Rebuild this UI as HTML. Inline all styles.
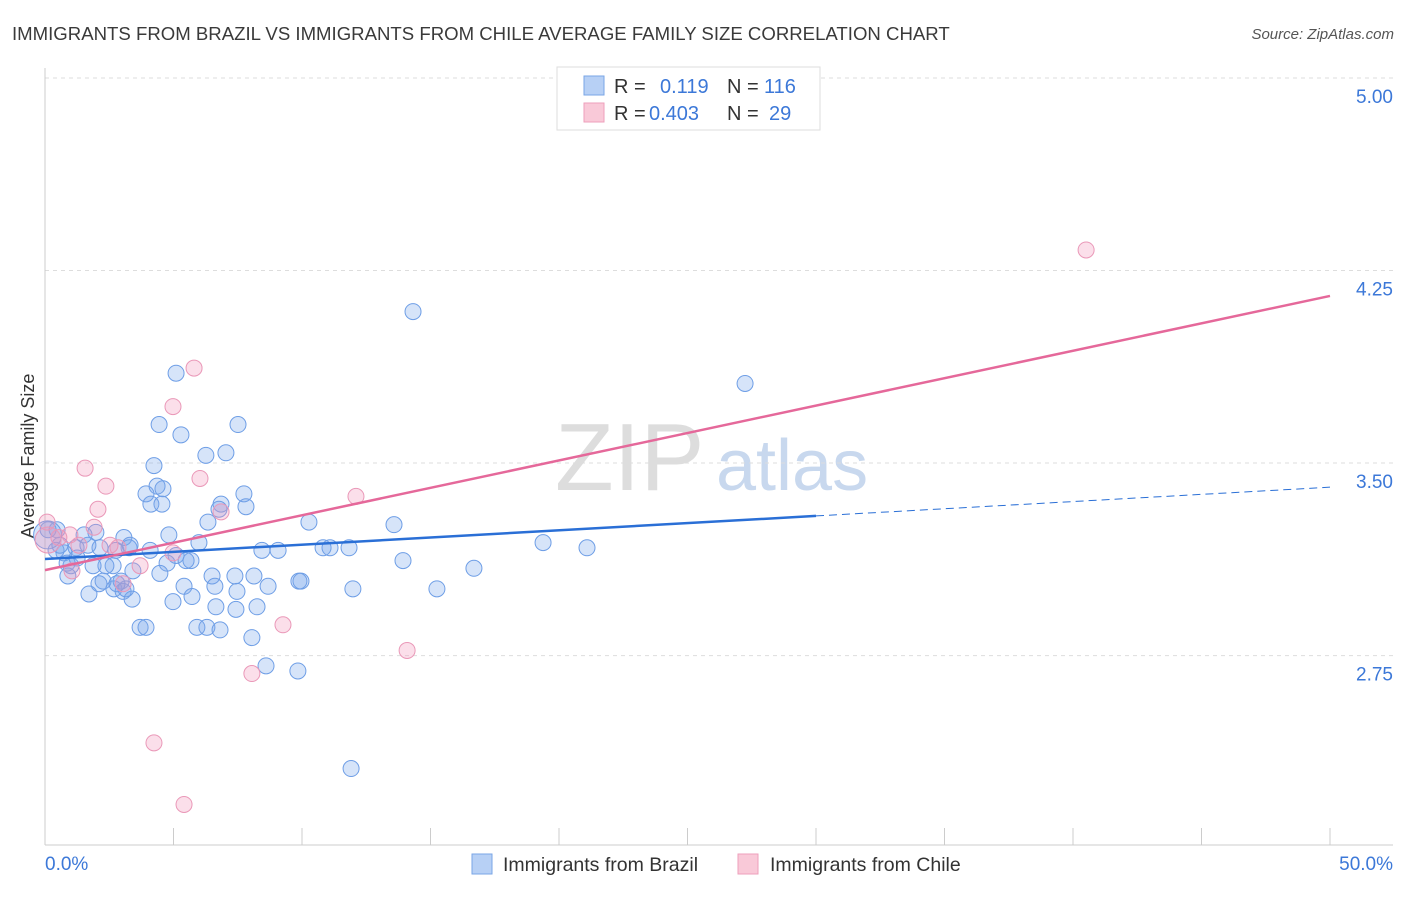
<!DOCTYPE html>
<html><head><meta charset="utf-8"><style>
body{margin:0;background:#fff;font-family:"Liberation Sans",sans-serif;}
svg text{font-family:"Liberation Sans",sans-serif;}
</style></head><body>
<svg id="c" width="1406" height="892">
<text x="12" y="40" font-size="18.6" fill="#3a3a3a">IMMIGRANTS FROM BRAZIL VS IMMIGRANTS FROM CHILE AVERAGE FAMILY SIZE CORRELATION CHART</text>
<text x="1394" y="39" font-size="15" fill="#555" text-anchor="end" font-style="italic">Source: ZipAtlas.com</text>
<text transform="translate(34,456) rotate(-90)" font-size="18" fill="#333" text-anchor="middle">Average Family Size</text>
<g><text x="555" y="490" font-size="96" fill="#ddd" font-family="Liberation Serif">ZIP</text><text x="716" y="490" font-size="72" fill="#c8d8ee">atlas</text></g>
<g id="grid"></g><g id="axes"></g><g id="pts"></g><g id="trend"></g>
<g>
<rect x="557" y="67" width="263" height="63" fill="#fff" stroke="#ddd"/>
<rect x="584" y="76" width="20" height="19" fill="#b7d0f5" stroke="#7aa6e6"/>
<rect x="584" y="103" width="20" height="19" fill="#f9c9d8" stroke="#ee9fbb"/>
<text x="614" y="93" font-size="20" fill="#333">R = <tspan fill="#3c78d8" x="660">0.119</tspan><tspan x="727" fill="#333">N =</tspan><tspan fill="#3c78d8" x="764">116</tspan></text>
<text x="614" y="120" font-size="20" fill="#333">R = <tspan fill="#3c78d8" x="649">0.403</tspan><tspan x="727" fill="#333">N =</tspan><tspan fill="#3c78d8" x="769">29</tspan></text>
</g>
<g>
<rect x="472" y="854" width="20" height="20" fill="#b7d0f5" stroke="#7aa6e6"/>
<text x="503" y="871" font-size="19.5" fill="#333">Immigrants from Brazil</text>
<rect x="738" y="854" width="20" height="20" fill="#f9c9d8" stroke="#ee9fbb"/>
<text x="770" y="871" font-size="19.5" fill="#333">Immigrants from Chile</text>
</g>
</svg>
<script>
const yTicks=[5.00,4.25,3.50,2.75];
const yTickLabels=["5.00","4.25","3.50","2.75"];
const xTickCount=10;
const xLabels=["0.0%","50.0%"];
const brazilX=[14.32,27.24,5.10,7.51,4.44,5.29,7.04,6.26,4.24,4.36,4.59,3.93,7.74,4.12,4.55,6.85,7.82,6.77,6.34,10.27,13.58,4.82,3.07,1.98,1.52,0.47,0.12,19.38,21.09,10.82,11.09,11.83,8.44,9.07,5.99,4.09,5.10,5.68,3.27,2.76,2.14,1.21,0.74,0.43,0.86,1.01,2.65,2.37,4.75,5.49,13.93,16.69,3.42,4.47,6.50,7.39,8.13,0.89,2.26,2.96,9.88,9.96,5.41,6.61,8.68,11.98,15.25,2.10,2.68,1.71,3.04,7.47,3.39,4.98,5.72,6.65,7.43,8.25,3.70,3.93,5.91,6.30,6.81,8.05,8.60,9.84,11.91,3.15,2.80,0.58,1.67,3.31,1.25,1.87,0.1];
const brazilY=[4.09,3.81,3.85,3.65,3.65,3.61,3.54,3.53,3.49,3.41,3.40,3.38,3.38,3.34,3.34,3.34,3.33,3.32,3.27,3.27,3.26,3.22,3.21,3.23,3.22,3.24,3.24,3.19,3.17,3.17,3.17,3.17,3.16,3.16,3.19,3.16,3.14,3.12,3.17,3.16,3.17,3.17,3.15,3.16,3.11,3.10,3.10,3.10,3.11,3.12,3.12,3.09,3.08,3.07,3.06,3.06,3.06,3.06,3.04,3.04,3.04,3.04,3.02,3.02,3.02,3.01,3.01,3.03,3.01,2.99,3.00,3.00,2.97,2.96,2.98,2.94,2.93,2.94,2.86,2.86,2.86,2.86,2.85,2.82,2.71,2.69,2.31,3.01,3.03,3.18,3.18,3.18,3.13,3.10,3.22];
const chileX=[40.51,5.80,4.98,1.56,2.37,6.03,2.06,12.10,6.85,1.91,0.97,0.54,0.08,2.53,2.84,4.98,3.70,1.05,3.04,1.32,9.26,14.09,8.05,4.24,5.41,0.12];
const chileY=[4.33,3.87,3.72,3.48,3.41,3.44,3.32,3.37,3.31,3.25,3.22,3.21,3.27,3.18,3.17,3.15,3.10,3.08,3.03,3.18,2.87,2.77,2.68,2.41,2.17,3.20];
const brazilTrend=[3.126,3.294,3.406]; // at x=0, 30, 50
const chileTrend=[3.083,4.151]; // at x=0, 50
const X=v=>45+v*25.7, Y=v=>78+(5-v)*256.7;
const NS="http://www.w3.org/2000/svg";
function mk(p,t,a){const e=document.createElementNS(NS,t);for(const k in a)e.setAttribute(k,a[k]);p.appendChild(e);return e;}
const grid=document.getElementById('grid'),axes=document.getElementById('axes'),pts=document.getElementById('pts'),tr=document.getElementById('trend');
yTicks.forEach((v,i)=>{
 const l=mk(grid,'line',{x1:45,x2:1393,y1:Y(v),y2:Y(v),stroke:'#ddd','stroke-dasharray':'4,4'});
 
 
 const t=mk(axes,'text',{x:1393,y:Y(v)+25,'font-size':19,fill:'#3c78d8','text-anchor':'end'});
 t.textContent=yTickLabels[i];
 
 
});
let a=mk(axes,'line',{x1:45,x2:45,y1:68,y2:845,stroke:'#ccc'});


a=mk(axes,'line',{x1:45,x2:1393,y1:845,y2:845,stroke:'#ccc'});


for(let i=1;i<=xTickCount;i++){const x=X(i*5);
 const t=mk(axes,'line',{x1:x,x2:x,y1:828,y2:845,stroke:'#ccc'});
 
 }
[[0,'start',45],[1,'end',1393]].forEach(([i,an,x])=>{const t=mk(axes,'text',{x:x,y:870,'font-size':19,fill:'#3c78d8','text-anchor':an});t.textContent=xLabels[i];
 
 });
brazilX.forEach((v,i)=>{const c=mk(pts,'circle',{cx:X(v),cy:Y(brazilY[i]),r:i==brazilX.length-1?14:8,fill:'rgba(120,165,235,0.3)',stroke:'#6e9ee6','stroke-width':1});
 
 });
chileX.forEach((v,i)=>{const c=mk(pts,'circle',{cx:X(v),cy:Y(chileY[i]),r:i==chileX.length-1?13:8,fill:'rgba(242,150,185,0.3)',stroke:'#ea98b8','stroke-width':1});
 
 });
let l=mk(tr,'line',{x1:X(0),y1:Y(brazilTrend[0]),x2:X(30),y2:Y(brazilTrend[1]),stroke:'#2a6fd6','stroke-width':2.5});


l=mk(tr,'line',{x1:X(30),y1:Y(brazilTrend[1]),x2:X(50),y2:Y(brazilTrend[2]),stroke:'#2a6fd6','stroke-width':1,'stroke-dasharray':'8,5'});


l=mk(tr,'line',{x1:X(0),y1:Y(chileTrend[0]),x2:X(50),y2:Y(chileTrend[1]),stroke:'#e5689a','stroke-width':2.5});


</script>
</body></html>
